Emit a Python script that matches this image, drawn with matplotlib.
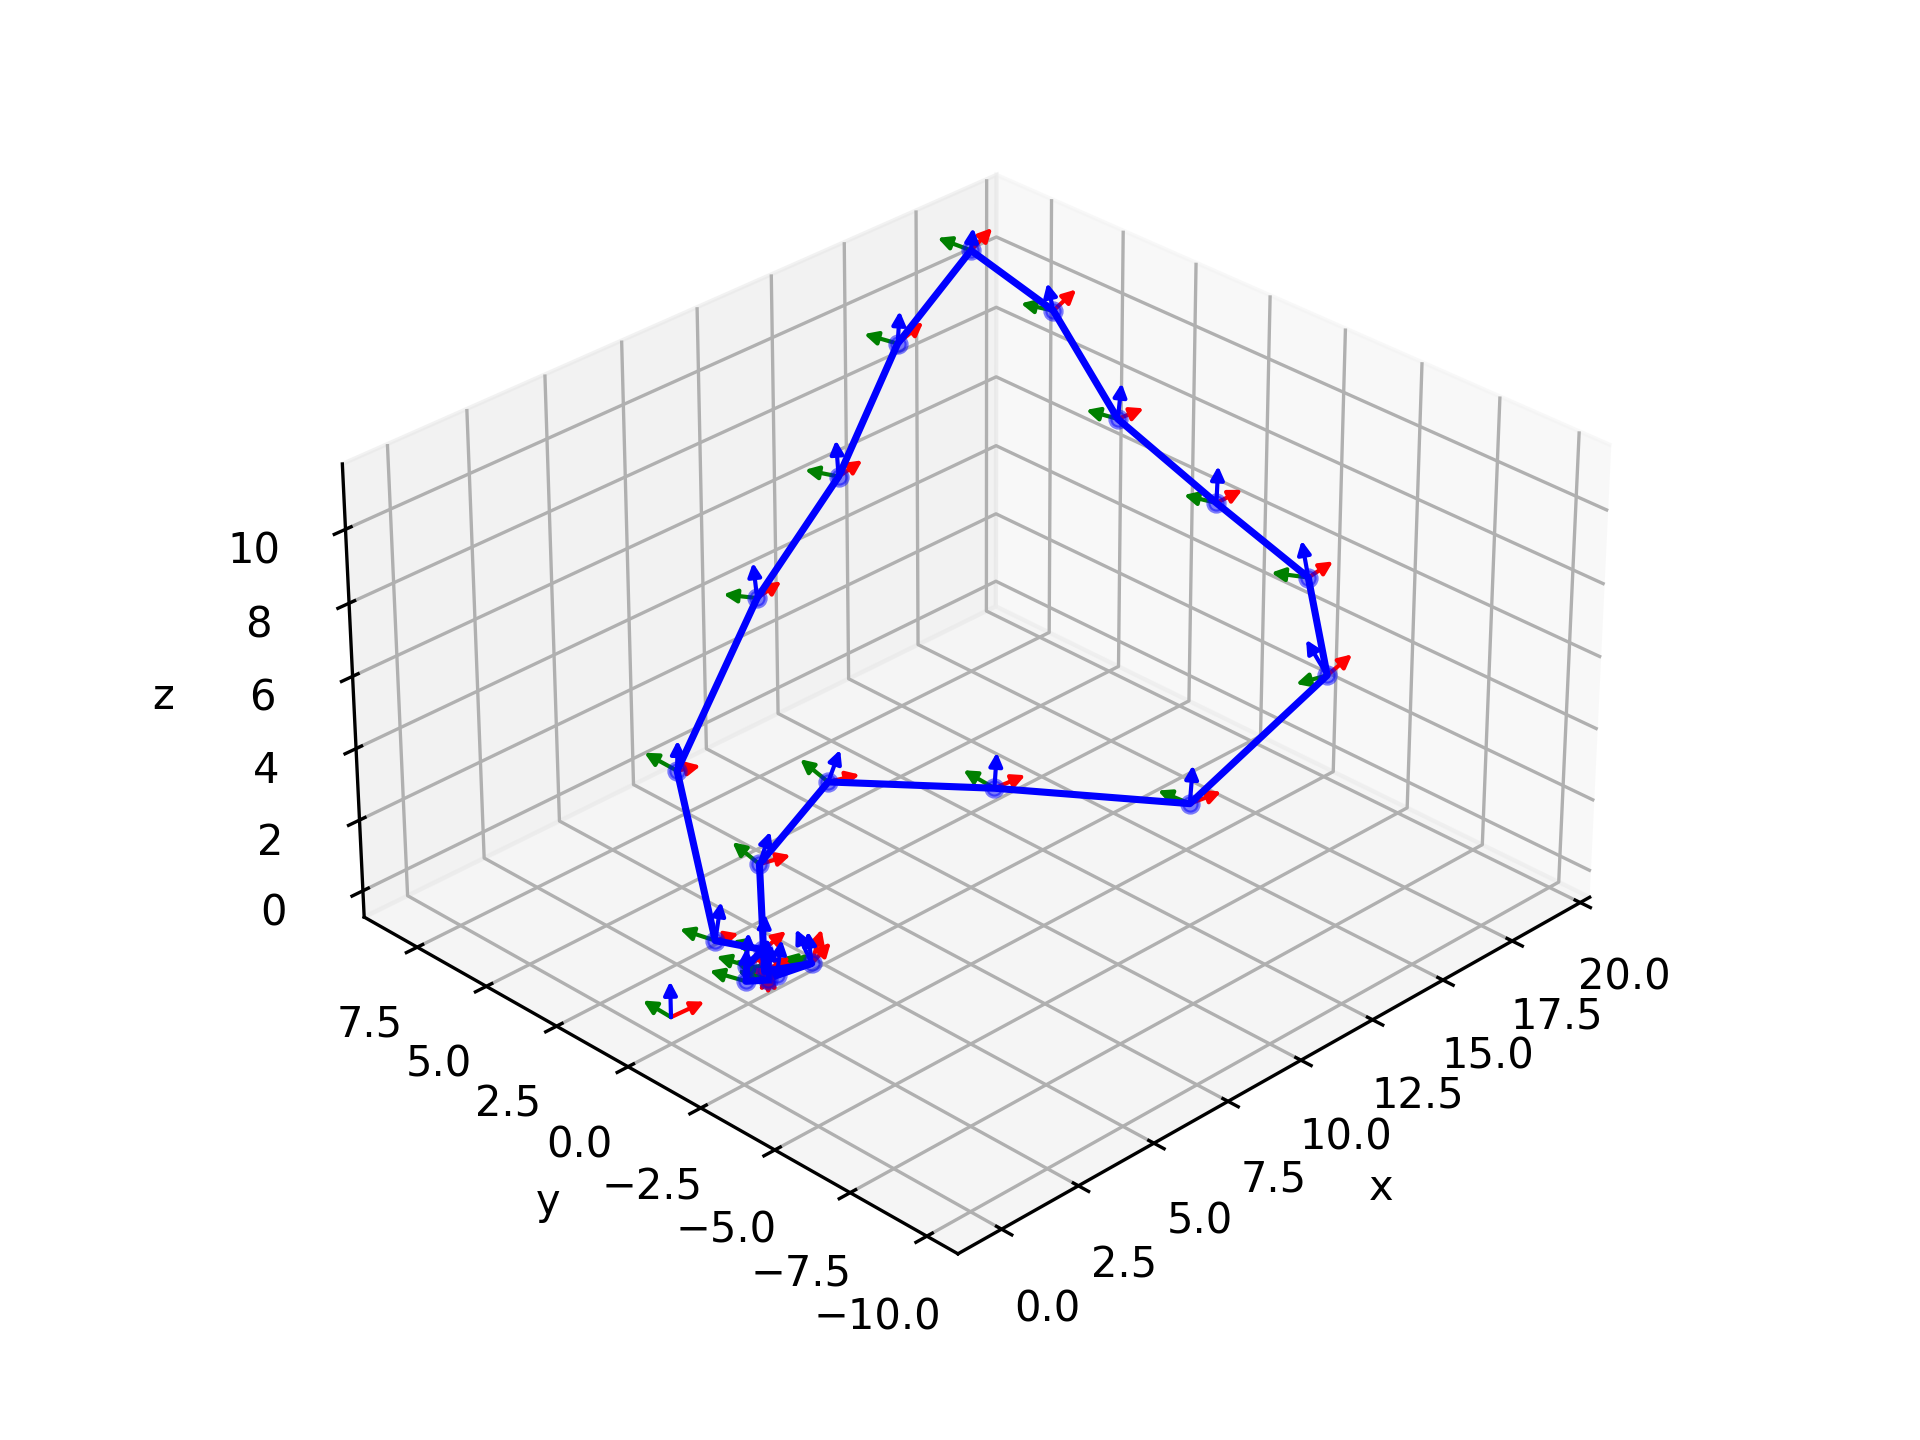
import matplotlib
matplotlib.use("Agg")
import matplotlib.pyplot as plt
from matplotlib.patches import FancyArrowPatch
from mpl_toolkits.mplot3d import proj3d

# trajectory, starts in the cluster on the ground and closes back into it
pos_x = [3.04, 4.00, 4.00, 2.96, 3.05, 6.75, 9.37, 12.17, 17.71, 18.25, 18.04, 18.10, 18.30, 18.46, 14.36, 10.60, 6.83, 2.40, 1.11, 3.19, 2.83, 2.34, 2.75, 2.75, 2.75]
pos_y = [-0.43, -0.63, -0.63, -0.09, 0.12, 1.61, -1.43, -5.25, -4.58, -3.39, -0.48, 2.96, 5.41, 8.47, 6.92, 5.15, 4.09, 2.22, -0.39, 0.19, 0.39, -0.10, -0.43, -0.43, -0.43]
pos_z = [0.00, 0.00, 0.00, 0.00, 2.86, 2.94, 2.94, 2.94, 3.96, 6.01, 7.04, 8.06, 10.11, 10.64, 10.08, 8.47, 7.00, 4.82, 1.81, 0.38, 0.00, 0.00, 0.00, 0.00, 0.00]

# separate frame at the start, no line goes to it
start = [0.0, 0.0, 0.0]
start_red = [1.08, 0.0, -0.05]
start_green = [0.0, 0.97, 0.03]
start_blue = [0.0, 0.0, 1.0]

red_dx = [0.64, 0.34, 0.64, 0.85, 1.02, 1.06, 1.06, 1.10, 0.89, 0.89, 0.93, 0.93, 0.81, 0.76, 0.89, 0.81, 0.81, 0.76, 0.76, 0.76, 0.85, 0.76, 0.00, -0.30, 0.30]
red_dz = [0.31, 0.81, 0.31, 0.02, -0.19, -0.24, -0.08, -0.13, 0.23, 0.10, 0.01, -0.05, 0.30, 0.36, 0.27, 0.14, 0.14, -0.18, -0.14, 0.19, 0.02, 0.06, -0.42, -0.18, -0.45]
green_dy = [1.06, 1.02, 0.80, 1.06, 0.93, 0.97, 1.06, 1.06, 1.02, 1.23, 1.10, 1.10, 1.14, 1.19, 1.19, 1.19, 1.19, 1.14, 1.23, 1.06, 1.06, 1.27, 1.06, 1.06, 1.06]
green_dz = [-0.21, -0.29, -0.23, -0.18, 0.21, 0.23, 0.06, -0.08, -0.66, -0.35, -0.20, -0.16, -0.21, -0.07, -0.17, -0.27, -0.37, 0.02, -0.22, -0.21, -0.21, -0.27, -0.21, -0.21, -0.21]
blue_d = [0.09, -0.26, -0.06, 0.06, 0.19, 0.21, 0.04, 0.04, -0.38, -0.13, 0.02, 0.06, -0.11, 0.04, 0.04, -0.04, -0.06, 0.02, 0.11, 0.04, 0.04, 0.02, 0.06, 0.06, 0.06]
blue_dz = [1.00, 0.96, 0.90, 0.93, 0.90, 0.90, 1.00, 1.07, 1.00, 1.03, 1.03, 1.00, 0.77, 0.63, 0.90, 1.00, 0.97, 0.83, 1.07, 1.00, 0.93, 0.93, 1.00, 1.00, 1.00]

x_ticks = [0, 2.5, 5, 7.5, 10, 12.5, 15, 17.5, 20]
y_ticks = [-10, -7.5, -5, -2.5, 0, 2.5, 5, 7.5]
z_ticks = [0, 2, 4, 6, 8, 10]


class Arrow3D(FancyArrowPatch):
    def __init__(self, p, d, **kwargs):
        super().__init__((0, 0), (0, 0), **kwargs)
        self.p = p
        self.d = d

    def do_3d_projection(self, renderer=None):
        xs = [self.p[0], self.p[0] + self.d[0]]
        ys = [self.p[1], self.p[1] + self.d[1]]
        zs = [self.p[2], self.p[2] + self.d[2]]
        xp, yp, zp = proj3d.proj_transform(xs, ys, zs, self.axes.M)
        self.set_positions((xp[0], yp[0]), (xp[1], yp[1]))
        return min(zp)


def draw_frame(ax, p, r, g, b):
    for d, c, z in ((r, "r", 3), (g, "g", 3), (b, "b", 4)):
        ax.add_artist(Arrow3D(p, d, color=c, arrowstyle="-|>", mutation_scale=6.5,
                              lw=1, shrinkA=0, shrinkB=0, zorder=z))


fig = plt.figure(figsize=(6.4, 4.8), dpi=300)
ax = fig.add_subplot(projection="3d", computed_zorder=False)
ax.set_position([0.125 - 0.0108, 0.11 + 0.0190, 0.775, 0.77])
ax.set_proj_type("persp", focal_length=1.25)

draw_frame(ax, start, start_red, start_green, start_blue)
for i in range(len(pos_x)):
    p = [pos_x[i], pos_y[i], pos_z[i]]
    draw_frame(ax, p, [red_dx[i], 0, red_dz[i]], [0, green_dy[i], green_dz[i]],
               [blue_d[i], -blue_d[i], blue_dz[i]])

# some frames share a position, only one marker for those
path = list(dict.fromkeys(zip(pos_x, pos_y, pos_z)))
path_x, path_y, path_z = zip(*path)
ax.plot(path_x, path_y, path_z, color="b", lw=1.7, zorder=5)
ax.scatter(path_x, path_y, path_z, color="b", s=15, alpha=0.5, depthshade=False, zorder=6)

ax.set_xlim(-1.4, 20.35)
ax.set_ylim(-11.0, 9.45)
ax.set_zlim(-0.75, 11.75)
ax.set_xticks(x_ticks)
ax.set_yticks(y_ticks)
ax.set_zticks(z_ticks)
ax.set_box_aspect((21.75, 20.45, 12.5), zoom=1.184)
ax.tick_params(axis="both", pad=2)
ax.tick_params(axis="z", pad=2)
ax.set_xlabel("x", labelpad=0)
ax.set_ylabel("y", labelpad=0)
ax.set_zlabel("z", labelpad=0)
ax.view_init(elev=30, azim=-135)

plt.savefig("out.png", dpi=300)
